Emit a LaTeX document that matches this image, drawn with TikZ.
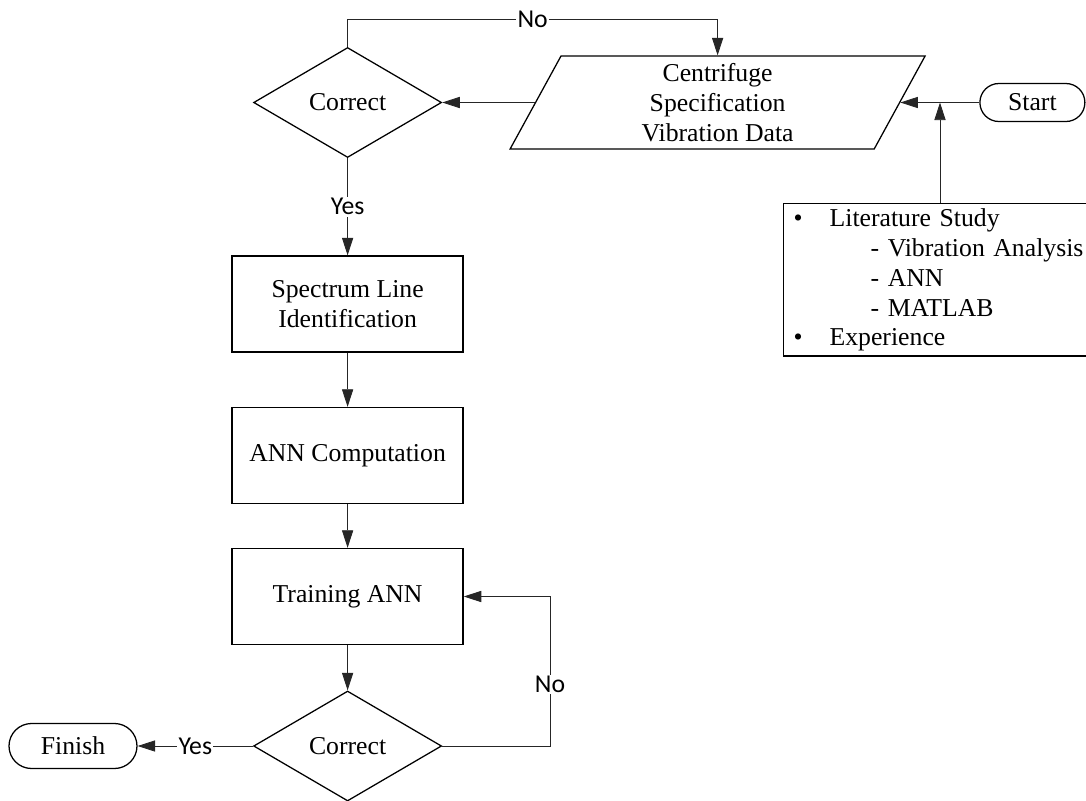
\documentclass[tikz,border=0pt]{standalone}
\usepackage{fontspec}
\setmainfont{Liberation Serif}
\newfontfamily\labelfont{Carlito}
\usetikzlibrary{shapes.geometric,shapes.misc,arrows.meta}

\begin{document}
\begin{tikzpicture}[
	font=\fontsize{18.3}{21.3}\selectfont,
	>={Triangle[length=0.44cm,width=0.28cm]},
	line/.style={draw=black!85, line width=0.6pt},
	proc/.style={draw, line width=0.9pt, rectangle, minimum width=5.775cm, minimum height=2.4cm, align=center},
	cond/.style={draw, line width=0.9pt, diamond, inner sep=0pt, minimum width=4.7cm, minimum height=2.75cm},
	term/.style={draw, line width=0.9pt, rounded rectangle, inner sep=0pt},
	io/.style={draw, line width=0.9pt, trapezium, trapezium left angle=57, trapezium right angle=123, trapezium stretches body=true, inner sep=0pt, minimum width=10.375cm, minimum height=2.325cm, align=center},
	answer/.style={font=\labelfont\fontsize{18.3}{18.3}\selectfont, fill=white, inner sep=1pt}
]
	\useasboundingbox (0, 0) rectangle (27.15, -20.025);
	\clip (0, 0) rectangle (27.15, -20.025);
	\node[term, minimum width=2.625cm, minimum height=0.95cm] (0) at (25.81, -2.5625) {Start};
	\node[io] (1) at (17.94, -2.5625) {Centrifuge\\Specification\\Vibration Data};
	\node[cond] (2) at (8.69, -2.5625) {Correct};
	\node[proc] (3) at (8.69, -7.6) {Spectrum Line\\Identification};
	\node[proc] (4) at (8.69, -11.3875) {ANN Computation};
	\node[proc] (5) at (8.69, -14.9125) {Training ANN};
	\node[cond] (6) at (8.69, -18.65) {Correct};
	\node[term, minimum width=3.2cm, minimum height=1.125cm] (7) at (1.825, -18.65) {Finish};
	\node[draw, line width=0.9pt, anchor=north west, minimum height=3.75cm, text width=7.5cm, inner xsep=0.25cm, align=left] (8) at (19.575, -5.075) {\makebox[0.9cm][l]{\textbullet}Literature Study\\
		\hspace*{1.925cm}- Vibration Analysis\\
		\hspace*{1.925cm}- ANN\\
		\hspace*{1.925cm}- MATLAB\\
		\makebox[0.9cm][l]{\textbullet}Experience};
	\coordinate (9) at (23.5, -2.5625);
	\coordinate (10) at (8.69, -0.475);
	\coordinate (11) at (13.75, -18.65);
	\draw[line] (0.west) to (9);
	\draw[line, ->] (9) to (1.east);
	\draw[line, ->] (8.north -| 9) to (9);
	\draw[line, ->] (1.west) to (2.east);
	\draw[line, ->] (2.north) to (10) -- node[answer] {No} (1.north |- 10) to (1.north);
	\draw[line, ->] (2.south) to node[answer] {Yes} (3.north);
	\draw[line, ->] (3.south) to (4.north);
	\draw[line, ->] (4.south) to (5.north);
	\draw[line, ->] (5.south) to (6.north);
	\draw[line, ->] (6.west) to node[answer] {Yes} (7.east);
	\draw[line, ->] (6.east) -- (11) -- node[answer, pos=0.41] {No} (11 |- 5.east) -- (5.east);
\end{tikzpicture}
\end{document}
